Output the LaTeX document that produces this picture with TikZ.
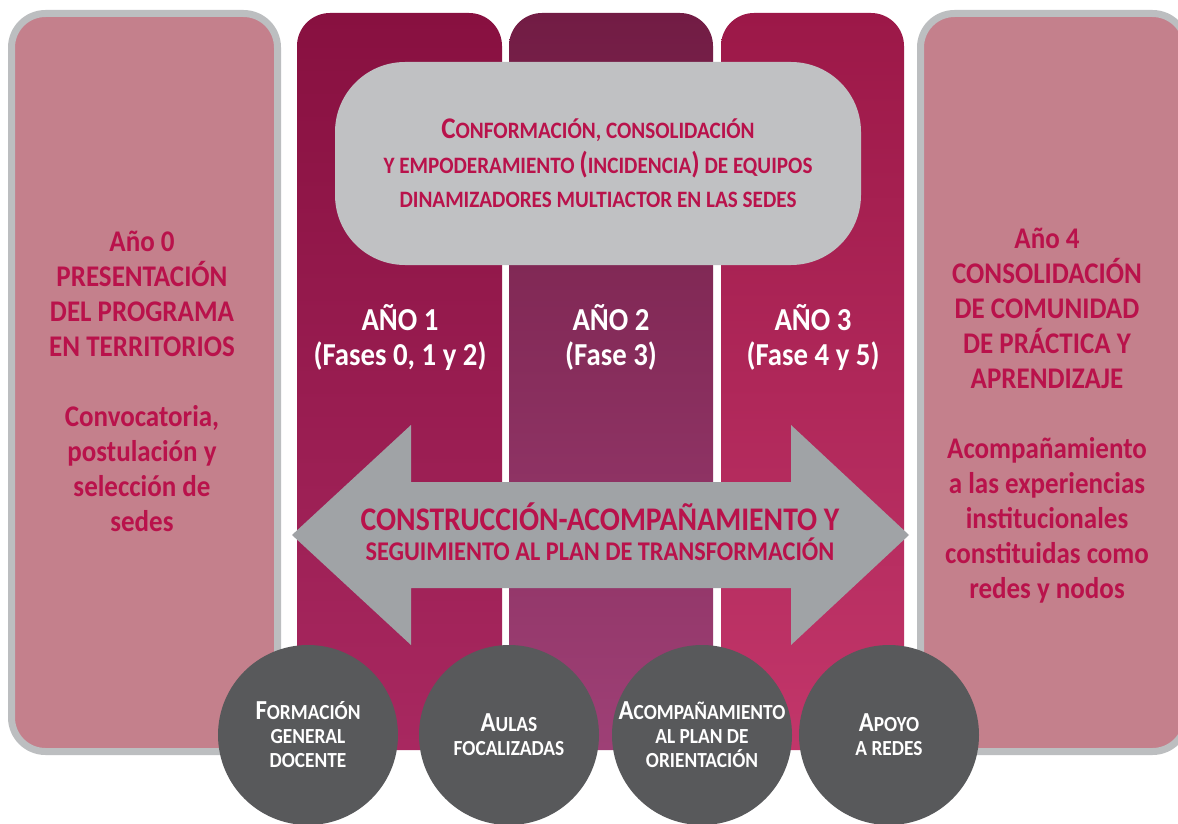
\documentclass[tikz,border=0pt]{standalone}
\usepackage{fontspec}
\setmainfont{Carlito}[FakeStretch=0.9]
\usepackage{xcolor}
\usepackage{tikz}
\usetikzlibrary{positioning}

\definecolor{sidepink}{RGB}{196,128,140}
\definecolor{rimgray}{RGB}{188,190,192}
\definecolor{crimson}{RGB}{185,18,75}
\definecolor{boxgray}{RGB}{192,193,195}
\definecolor{arrowgray}{RGB}{160,163,166}
\definecolor{discgray}{RGB}{88,89,91}
\definecolor{colAtop}{RGB}{136,16,64}
\definecolor{colAbot}{RGB}{168,40,96}
\definecolor{colBtop}{RGB}{114,28,68}
\definecolor{colBbot}{RGB}{158,64,118}
\definecolor{colCtop}{RGB}{156,24,72}
\definecolor{colCbot}{RGB}{194,54,106}

\newcommand{\bigini}[1]{{\fontsize{30}{30}\selectfont #1}}
\newcommand{\discini}[1]{{\fontsize{27.5}{27.5}\selectfont #1}}

\begin{document}
\begin{tikzpicture}[
  x=1pt, y=-1pt,
  sidebox/.style={
    draw=rimgray,
    line width=7pt,
    fill=sidepink,
    rounded corners=34pt,
    minimum width=266pt,
    minimum height=738pt,
    inner sep=0pt
  },
  yearcol/.style={
    rounded corners=33pt,
    minimum height=737pt,
    inner sep=0pt
  },
  sidetext/.style={
    align=center,
    text=crimson,
    font=\bfseries\fontsize{30}{35}\selectfont
  },
  yeartext/.style={
    align=center,
    text=white,
    font=\bfseries\fontsize{32}{35}\selectfont
  },
  disc/.style={
    circle,
    fill=discgray,
    minimum size=180pt,
    inner sep=0pt,
    align=center,
    text=white,
    font=\bfseries\fontsize{21.5}{24}\selectfont
  }
]
\clip (0,0) rectangle (1178,824);
\fill[white] (0,0) rectangle (1178,824);

% side boxes
\node[sidebox] (anio0) at (144.5,382.5) {};
\node[sidebox] (anio4) at (1053.5,382.5) {};

% year columns
\node[yearcol, minimum width=205pt, top color=colAtop, bottom color=colAbot] (col1) at (399.5,381.5) {};
\node[yearcol, minimum width=204pt, top color=colBtop, bottom color=colBbot] (col2) at (611,381.5) {};
\node[yearcol, minimum width=183pt, top color=colCtop, bottom color=colCbot] (col3) at (812.5,381.5) {};

% top box
\node[fill=boxgray, rounded corners=70pt, minimum width=526pt, minimum height=203pt,
  align=center, text=crimson, font=\bfseries\fontsize{23.5}{34.5}\selectfont] (equipos) at (598,163.5)
  {\bigini{C}ONFORMACIÓN, CONSOLIDACIÓN\\
   Y EMPODERAMIENTO \bigini{(}INCIDENCIA\bigini{)} DE EQUIPOS\\
   DINAMIZADORES MULTIACTOR EN LAS SEDES};

% double arrow
\fill[arrowgray] (292,535) -- (411,425) -- (411,482) -- (791,482) -- (791,425)
  -- (909,535) -- (791,645) -- (791,588) -- (411,588) -- (411,645) -- cycle;
\node[align=center, text=crimson, font=\bfseries\fontsize{33}{30}\selectfont] (plan) at (600,532)
  {CONSTRUCCIÓN-ACOMPAÑAMIENTO Y\\
   {\fontsize{27}{30}\selectfont SEGUIMIENTO AL PLAN DE TRANSFORMACIÓN}};

% texts
\node[sidetext] (txt0) at (142,381) {Año 0\\PRESENTACIÓN\\DEL PROGRAMA\\EN TERRITORIOS\\[35pt]
  Convocatoria,\\postulación y\\selección de\\sedes};
\node[sidetext] (txt4) at (1047,416) {Año 4\\CONSOLIDACIÓN\\DE COMUNIDAD\\DE PRÁCTICA Y\\APRENDIZAJE\\[35pt]
  Acompañamiento\\a las experiencias\\institucionales\\constituidas como\\redes y nodos};

\node[yeartext] (txt1) at (400,337) {AÑO 1\\(Fases 0, 1 y 2)};
\node[yeartext] (txt2) at (611,337) {AÑO 2\\(Fase 3)};
\node[yeartext] (txt3) at (813,337) {AÑO 3\\(Fase 4 y 5)};

% discs
\node[disc] (formacion) at (308,735) {\discini{F}ORMACIÓN\\GENERAL\\DOCENTE};
\node[disc] (aulas) at (509,735) {\discini{A}ULAS\\FOCALIZADAS};
\node[disc] (acomp) at (702,735) {\discini{A}COMPAÑAMIENTO\\AL PLAN DE\\ORIENTACIÓN};
\node[disc] (apoyo) at (889,735) {\discini{A}POYO\\A REDES};
\end{tikzpicture}
\end{document}
